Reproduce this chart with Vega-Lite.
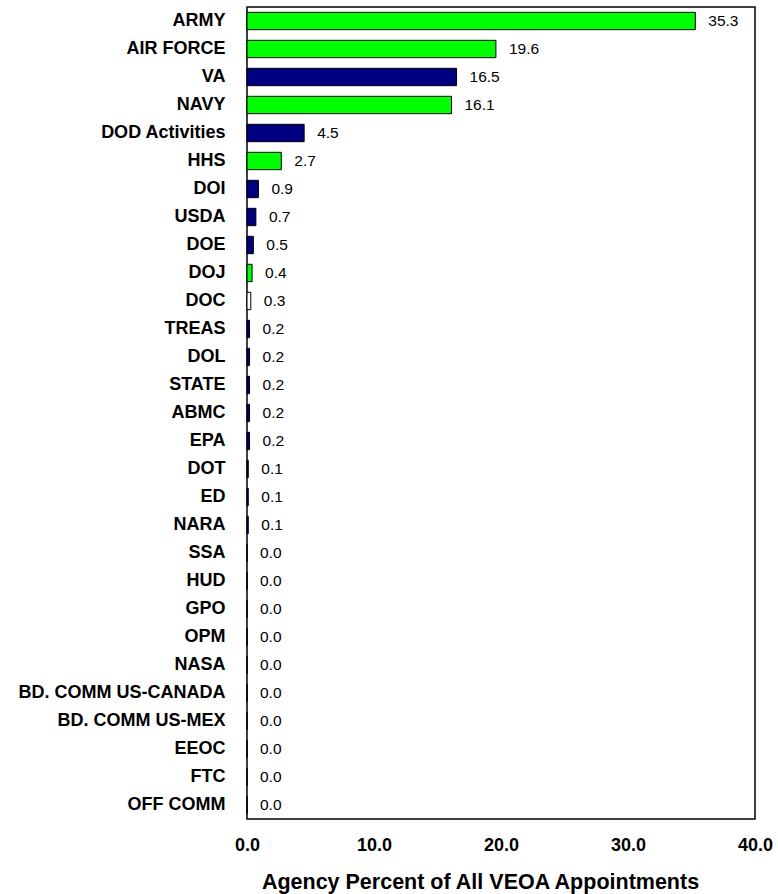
{
  "$schema": "https://vega.github.io/schema/vega-lite/v6.json",
  "width": 508,
  "height": 812,
  "autosize": {"type": "none"},
  "padding": {"left": 247, "top": 7, "right": 23, "bottom": 75},
  "background": "white",
  "config": {
    "view": {"stroke": "black", "strokeWidth": 1.5},
    "font": "Liberation Sans"
  },
  "data": {
    "values": [
      {"agency": "ARMY", "pct": 35.3, "grp": "g"},
      {"agency": "AIR FORCE", "pct": 19.6, "grp": "g"},
      {"agency": "VA", "pct": 16.5, "grp": "n"},
      {"agency": "NAVY", "pct": 16.1, "grp": "g"},
      {"agency": "DOD Activities", "pct": 4.5, "grp": "n"},
      {"agency": "HHS", "pct": 2.7, "grp": "g"},
      {"agency": "DOI", "pct": 0.9, "grp": "n"},
      {"agency": "USDA", "pct": 0.7, "grp": "n"},
      {"agency": "DOE", "pct": 0.5, "grp": "n"},
      {"agency": "DOJ", "pct": 0.4, "grp": "g"},
      {"agency": "DOC", "pct": 0.3, "grp": "w"},
      {"agency": "TREAS", "pct": 0.2, "grp": "n"},
      {"agency": "DOL", "pct": 0.2, "grp": "n"},
      {"agency": "STATE", "pct": 0.2, "grp": "n"},
      {"agency": "ABMC", "pct": 0.2, "grp": "n"},
      {"agency": "EPA", "pct": 0.2, "grp": "n"},
      {"agency": "DOT", "pct": 0.1, "grp": "n"},
      {"agency": "ED", "pct": 0.1, "grp": "n"},
      {"agency": "NARA", "pct": 0.1, "grp": "n"},
      {"agency": "SSA", "pct": 0.0, "grp": "n"},
      {"agency": "HUD", "pct": 0.0, "grp": "n"},
      {"agency": "GPO", "pct": 0.0, "grp": "n"},
      {"agency": "OPM", "pct": 0.0, "grp": "n"},
      {"agency": "NASA", "pct": 0.0, "grp": "n"},
      {"agency": "BD. COMM US-CANADA", "pct": 0.0, "grp": "n"},
      {"agency": "BD. COMM US-MEX", "pct": 0.0, "grp": "n"},
      {"agency": "EEOC", "pct": 0.0, "grp": "n"},
      {"agency": "FTC", "pct": 0.0, "grp": "n"},
      {"agency": "OFF COMM", "pct": 0.0, "grp": "n"}
    ]
  },
  "encoding": {
    "y": {
      "field": "agency",
      "type": "nominal",
      "sort": null,
      "scale": {"paddingInner": 0.38, "paddingOuter": 0.19},
      "axis": {
        "title": null,
        "domain": false,
        "ticks": false,
        "labelFont": "Liberation Sans",
        "labelFontSize": 18,
        "labelFontWeight": "bold",
        "labelColor": "black",
        "labelPadding": 22,
        "labelLimit": 300
      }
    },
    "x": {
      "field": "pct",
      "type": "quantitative",
      "scale": {"domain": [0, 40]},
      "axis": {
        "title": "Agency Percent of All VEOA Appointments",
        "titleFont": "Liberation Sans",
        "titleFontSize": 21.5,
        "titleFontWeight": "bold",
        "titleColor": "black",
        "titlePadding": 17,
        "titleX": 233,
        "titleAlign": "center",
        "values": [0, 10, 20, 30, 40],
        "format": ".1f",
        "grid": false,
        "domain": false,
        "ticks": false,
        "labelFont": "Liberation Sans",
        "labelFontSize": 18,
        "labelFontWeight": "bold",
        "labelColor": "black",
        "labelPadding": 17,
        "labelFlush": false
      }
    }
  },
  "layer": [
    {
      "mark": {"type": "bar", "stroke": "black", "strokeWidth": 1},
      "encoding": {
        "color": {
          "field": "grp",
          "type": "nominal",
          "scale": {"domain": ["g", "n", "w"], "range": ["#00FF00", "#000080", "#FFFFFF"]},
          "legend": null
        }
      }
    },
    {
      "mark": {"type": "text", "align": "left", "baseline": "middle", "dx": 13, "fontSize": 15.5, "font": "Liberation Sans", "color": "black"},
      "encoding": {
        "text": {"field": "pct", "type": "quantitative", "format": ".1f"}
      }
    }
  ]
}
